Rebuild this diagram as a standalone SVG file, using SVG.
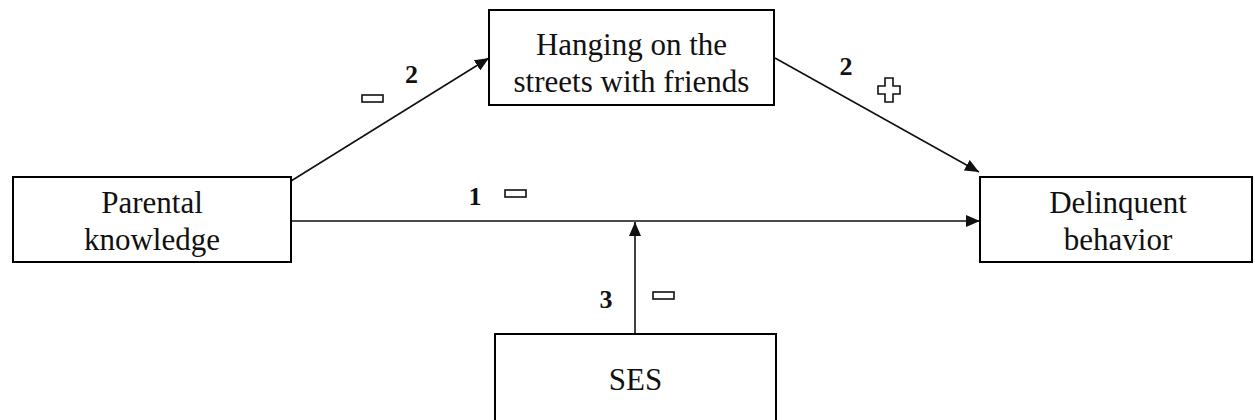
<svg xmlns="http://www.w3.org/2000/svg" width="1255" height="420" viewBox="0 0 1255 420">
<style>
.box{fill:#fff;stroke:#000;stroke-width:2}
.t{font-family:"Liberation Serif","Times New Roman",serif;font-size:31px;fill:#111;text-anchor:middle}
.n{font-family:"Liberation Serif","Times New Roman",serif;font-size:26px;font-weight:bold;fill:#111;text-anchor:middle}
.ln{stroke:#111;stroke-width:1.6;fill:none}
.sg{fill:#fff;stroke:#111;stroke-width:1.6}
</style>
<defs>
<marker id="ah" markerUnits="userSpaceOnUse" markerWidth="14" markerHeight="12" viewBox="0 0 14 12" refX="14" refY="6" orient="auto">
<path d="M0,0 L14,6 L0,12 Z" fill="#111"/>
</marker>
</defs>
<rect width="1255" height="420" fill="#fff"/>
<g id="connectors">
<line class="ln" x1="291" y1="181" x2="489" y2="58" marker-end="url(#ah)"/>
<line class="ln" x1="775" y1="58" x2="979" y2="172" marker-end="url(#ah)"/>
<line class="ln" x1="291" y1="221" x2="980" y2="221" marker-end="url(#ah)"/>
<line class="ln" x1="635" y1="334" x2="635" y2="222" marker-end="url(#ah)"/>
</g>
<g id="parental">
<rect class="box" x="13" y="177" width="278" height="85"/>
<text class="t" x="152" y="213">Parental</text>
<text class="t" x="152" y="250">knowledge</text>
</g>
<g id="hanging">
<rect class="box" x="489" y="10" width="285" height="95"/>
<text class="t" x="631.5" y="55">Hanging on the</text>
<text class="t" x="631.5" y="92">streets with friends</text>
</g>
<g id="delinquent">
<rect class="box" x="980" y="177" width="272" height="85"/>
<text class="t" x="1118" y="213">Delinquent</text>
<text class="t" x="1118" y="250">behavior</text>
</g>
<g id="ses">
<rect class="box" x="495" y="334" width="281" height="100"/>
<text class="t" x="635.5" y="390">SES</text>
</g>
<g id="labels">
<text class="n" x="411.5" y="83">2</text>
<rect class="sg" x="362" y="95" width="21" height="7"/>
<text class="n" x="846" y="75">2</text>
<path class="sg" d="M885,78 H893 V86 H900 V94 H893 V102 H885 V94 H878 V86 H885 Z"/>
<text class="n" x="475" y="205">1</text>
<rect class="sg" x="505" y="190" width="21" height="7"/>
<text class="n" x="606" y="308">3</text>
<rect class="sg" x="653" y="292" width="21" height="7"/>
</g>
</svg>
